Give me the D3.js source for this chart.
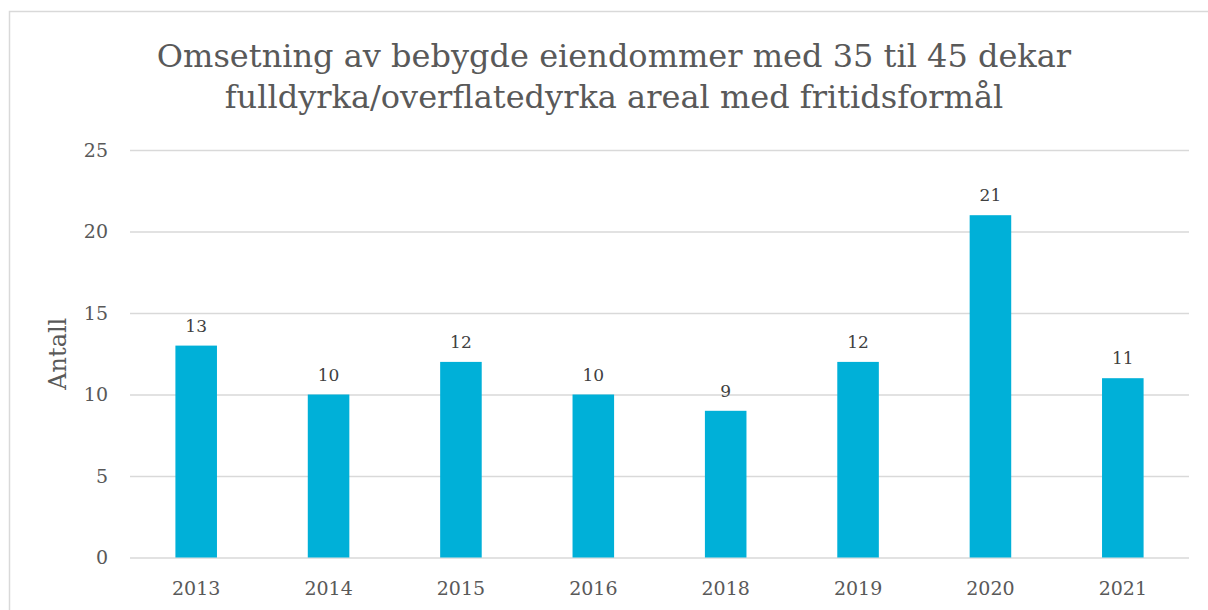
<!DOCTYPE html>
<html>
<head>
<meta charset="utf-8">
<script src="https://cdn.jsdelivr.net/npm/d3@7"></script>
<style>
  body { margin: 0; background: #fff; }
  text { font-family: Georgia, "DejaVu Serif", serif; }
</style>
</head>
<body>
<div id="chart"></div>
<script>
// data
var years = ["2013", "2014", "2015", "2016", "2018", "2019", "2020", "2021"];
var counts = [13, 10, 12, 10, 9, 12, 21, 11];
var yTicks = [0, 5, 10, 15, 20, 25];
var titleLines = ["Omsetning av bebygde eiendommer med 35 til 45 dekar",
                  "fulldyrka/overflatedyrka areal med fritidsformål"];

var W = 1208, H = 610;
var margin = {top: 150, right: 19, bottom: 52.5, left: 130},
    width = W - margin.left - margin.right,
    height = H - margin.top - margin.bottom;

var svg = d3.select("#chart")
  .append("svg")
    .attr("width", W)
    .attr("height", H);

// chart frame (runs off the right and bottom edges)
svg.append("rect")
  .attr("x", 9.5).attr("y", 11.5)
  .attr("width", W + 20).attr("height", H + 20)
  .attr("fill", "none")
  .attr("stroke", "#d9d9d9")
  .attr("stroke-width", 1.5);

// title
svg.append("text")
  .attr("text-anchor", "middle")
  .attr("fill", "#595959")
  .style("font-size", "32px")
  .selectAll("tspan")
  .data(titleLines)
  .enter().append("tspan")
    .attr("x", 614)
    .attr("y", function(d, i) { return 67 + i * 41; })
    .text(function(d) { return d; });

var g = svg.append("g")
  .attr("transform", "translate(" + margin.left + "," + margin.top + ")");

var x = d3.scaleBand()
  .domain(years)
  .range([0, width])
  .paddingInner(0.686)
  .paddingOuter(0.343);

var y = d3.scaleLinear()
  .domain([0, 25])
  .range([height, 0]);

// gridlines + y labels
var yAxis = g.append("g")
  .call(d3.axisLeft(y).tickValues(yTicks).tickSize(-width).tickPadding(22));
yAxis.select(".domain").remove();
yAxis.selectAll("line").attr("stroke", "#d9d9d9").attr("stroke-width", 1.5);
yAxis.selectAll("text").attr("fill", "#595959").style("font-size", "19px");

// x labels
var xAxis = g.append("g")
  .attr("transform", "translate(0," + height + ")")
  .call(d3.axisBottom(x).tickSize(0).tickPadding(24));
xAxis.select(".domain").remove();
xAxis.selectAll("text").attr("fill", "#595959").style("font-size", "19px");

// bars
g.selectAll(".bar")
  .data(counts)
  .enter().append("rect")
    .attr("class", "bar")
    .attr("x", function(d, i) { return x(years[i]); })
    .attr("y", function(d) { return y(d); })
    .attr("width", x.bandwidth())
    .attr("height", function(d) { return height - y(d); })
    .attr("fill", "#00b0d8");

// value labels
g.selectAll(".lbl")
  .data(counts)
  .enter().append("text")
    .attr("class", "lbl")
    .attr("x", function(d, i) { return x(years[i]) + x.bandwidth() / 2; })
    .attr("y", function(d) { return y(d) - 14; })
    .attr("text-anchor", "middle")
    .attr("fill", "#404040")
    .style("font-size", "17px")
    .text(function(d) { return d; });

// y axis title
svg.append("text")
  .attr("transform", "translate(66," + (margin.top + height / 2) + ") rotate(-90)")
  .attr("text-anchor", "middle")
  .attr("fill", "#595959")
  .style("font-size", "24px")
  .text("Antall");
</script>
</body>
</html>
